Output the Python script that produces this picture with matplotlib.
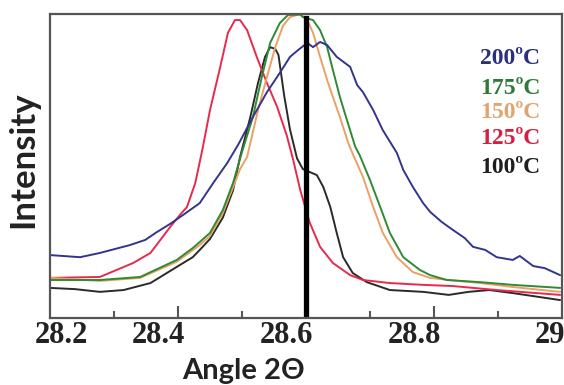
import numpy as np
import matplotlib.pyplot as plt
from matplotlib.transforms import blended_transform_factory, ScaledTranslation

# XRD peak (2theta, normalised intensity)
ang_125 = [28.2, 28.278, 28.330, 28.357, 28.388, 28.403, 28.414, 28.427, 28.438, 28.45,
           28.466, 28.478, 28.489, 28.497, 28.508, 28.523, 28.539, 28.555, 28.570, 28.580,
           28.591, 28.606, 28.622, 28.642, 28.669, 28.689, 28.731, 28.783, 28.830, 28.898,
           28.997]
int_125 = [0.132, 0.135, 0.181, 0.214, 0.30, 0.339, 0.365, 0.444, 0.553, 0.684,
           0.826, 0.938, 0.98, 0.98, 0.947, 0.859, 0.773, 0.694, 0.60, 0.52,
           0.421, 0.313, 0.234, 0.181, 0.141, 0.125, 0.115, 0.109, 0.105, 0.092,
           0.076]

ang_200 = [28.2, 28.247, 28.278, 28.325, 28.349, 28.365, 28.388, 28.408, 28.434, 28.455,
           28.477, 28.494, 28.517, 28.539, 28.559, 28.575, 28.588, 28.602, 28.611, 28.622,
           28.633, 28.648, 28.669, 28.680, 28.689, 28.705, 28.720, 28.742, 28.752, 28.767,
           28.783, 28.794, 28.812, 28.830, 28.848, 28.861, 28.880, 28.898, 28.923, 28.934,
           28.955, 28.973, 28.997]
int_200 = [0.207, 0.2, 0.214, 0.24, 0.257, 0.28, 0.31, 0.339, 0.378, 0.444,
           0.510, 0.57, 0.661, 0.743, 0.806, 0.859, 0.882, 0.905, 0.891, 0.908,
           0.898, 0.859, 0.826, 0.766, 0.743, 0.684, 0.618, 0.543, 0.487, 0.431,
           0.378, 0.349, 0.316, 0.289, 0.263, 0.234, 0.224, 0.2, 0.191, 0.204,
           0.171, 0.164, 0.141]

ang_175 = [28.2, 28.278, 28.341, 28.398, 28.423, 28.434, 28.45, 28.470, 28.486, 28.50,
           28.517, 28.531, 28.544, 28.559, 28.572, 28.591, 28.595, 28.611, 28.622, 28.633,
           28.642, 28.653, 28.664, 28.677, 28.684, 28.7, 28.716, 28.731, 28.752, 28.778,
           28.794, 28.820, 28.872, 28.923, 28.997]
int_175 = [0.125, 0.125, 0.135, 0.191, 0.23, 0.25, 0.28, 0.355, 0.444, 0.546,
           0.661, 0.793, 0.905, 0.970, 0.997, 0.998, 0.99, 0.98, 0.947, 0.891,
           0.816, 0.727, 0.651, 0.563, 0.535, 0.454, 0.365, 0.280, 0.2, 0.158,
           0.141, 0.125, 0.118, 0.109, 0.099]

ang_150 = [28.2, 28.278, 28.341, 28.398, 28.434, 28.45, 28.470, 28.486, 28.497, 28.508,
           28.525, 28.539, 28.552, 28.564, 28.575, 28.591, 28.602, 28.611, 28.622, 28.633,
           28.642, 28.653, 28.666, 28.673, 28.689, 28.705, 28.720, 28.742, 28.767, 28.794,
           28.823, 28.872, 28.923, 28.997]
int_150 = [0.132, 0.122, 0.132, 0.185, 0.24, 0.27, 0.345, 0.43, 0.49, 0.53,
           0.684, 0.793, 0.891, 0.961, 0.99, 1.0, 0.98, 0.938, 0.859, 0.783,
           0.727, 0.661, 0.576, 0.54, 0.464, 0.365, 0.280, 0.2, 0.151, 0.132,
           0.125, 0.115, 0.102, 0.086]

ang_100 = [28.2, 28.239, 28.278, 28.315, 28.357, 28.398, 28.423, 28.434, 28.45, 28.470,
           28.486, 28.497, 28.513, 28.525, 28.536, 28.544, 28.552, 28.557, 28.566, 28.575,
           28.586, 28.595, 28.606, 28.617, 28.627, 28.638, 28.648, 28.658, 28.673, 28.695,
           28.731, 28.783, 28.823, 28.854, 28.886, 28.923, 28.997]
int_100 = [0.099, 0.095, 0.086, 0.092, 0.115, 0.168, 0.2, 0.224, 0.26, 0.33,
           0.42, 0.53, 0.661, 0.773, 0.859, 0.891, 0.885, 0.865, 0.73, 0.62,
           0.525, 0.49, 0.48, 0.47, 0.431, 0.365, 0.280, 0.2, 0.148, 0.118,
           0.092, 0.086, 0.076, 0.086, 0.092, 0.082, 0.059]

temps = ["200\u00baC", "175\u00baC", "150\u00baC", "125\u00baC", "100\u00baC"]
tick_vals = [28.2, 28.4, 28.6, 28.8, 29.0]
tick_text = ["28.2", "28.4", "28.6", "28.8", "29"]

fig = plt.figure(figsize=(5.64, 3.85), dpi=100)
ax = fig.add_axes([50 / 564, 67 / 385, 512 / 564, 304 / 385])

lw = 1.4
kw = dict(lw=lw, solid_joinstyle="round", solid_capstyle="round")
ax.plot(ang_100, int_100, color="#2a2a2a", **kw)
ax.plot(ang_125, int_125, color="#e8294f", **kw)
ax.plot(ang_150, int_150, color="#eba065", **kw)
ax.plot(ang_175, int_175, color="#2f8a35", **kw)
ax.plot(ang_200, int_200, color="#33358c", **kw)

# marker line at 28.6
ax.axvline(28.6, ymin=0, ymax=0.987, color="black", lw=3.8)

ax.set_xlim(28.2, 29.0)
ax.set_ylim(0, 1.0)
ax.set_yticks([])
ax.set_xticks([28.4, 28.8])
ax.set_xticks([28.3, 28.5, 28.7, 28.9], minor=True)
ax.tick_params(axis="x", which="major", direction="in", length=9, width=1.5, color="#555555",
               labelbottom=False)
ax.tick_params(axis="x", which="minor", direction="in", length=5, width=1.5, color="#555555")
for s in ax.spines.values():
    s.set_color("#555555")
    s.set_linewidth(1.6)

# tick labels sit a little left of their ticks in the original
trans = blended_transform_factory(ax.transData, ax.transAxes)
shifts = [0.11, -0.2, -0.2, -0.2, -0.12]
for v, t, dx in zip(tick_vals, tick_text, shifts):
    ax.text(v, -0.01, t, transform=trans + ScaledTranslation(dx, 0, fig.dpi_scale_trans),
            ha="center", va="top", fontsize=22, family="Liberation Serif",
            fontweight="bold", color="#222222", clip_on=False)

fig.text(243 / 564, 0.036, "Angle 2\u0398", ha="center", va="center", fontsize=21,
         family="Lato", fontweight="bold", color="#222222")
fig.text(23 / 564, 1 - 160 / 385, "Intensity", ha="center", va="center", rotation=90,
         fontsize=25, family="Lato", fontweight="bold", color="#222222")

label_cols = ["#2b2f80", "#2f7a3a", "#e3a36e", "#d42040", "#1e1e1e"]
label_y = [58, 88, 113, 138, 168]
for t, c, y in zip(temps, label_cols, label_y):
    fig.text(540 / 564, 1 - y / 385, t, ha="right", va="center", color=c, fontsize=17,
             family="Liberation Serif", fontweight="bold")

fig.savefig("out.png", dpi=100)
